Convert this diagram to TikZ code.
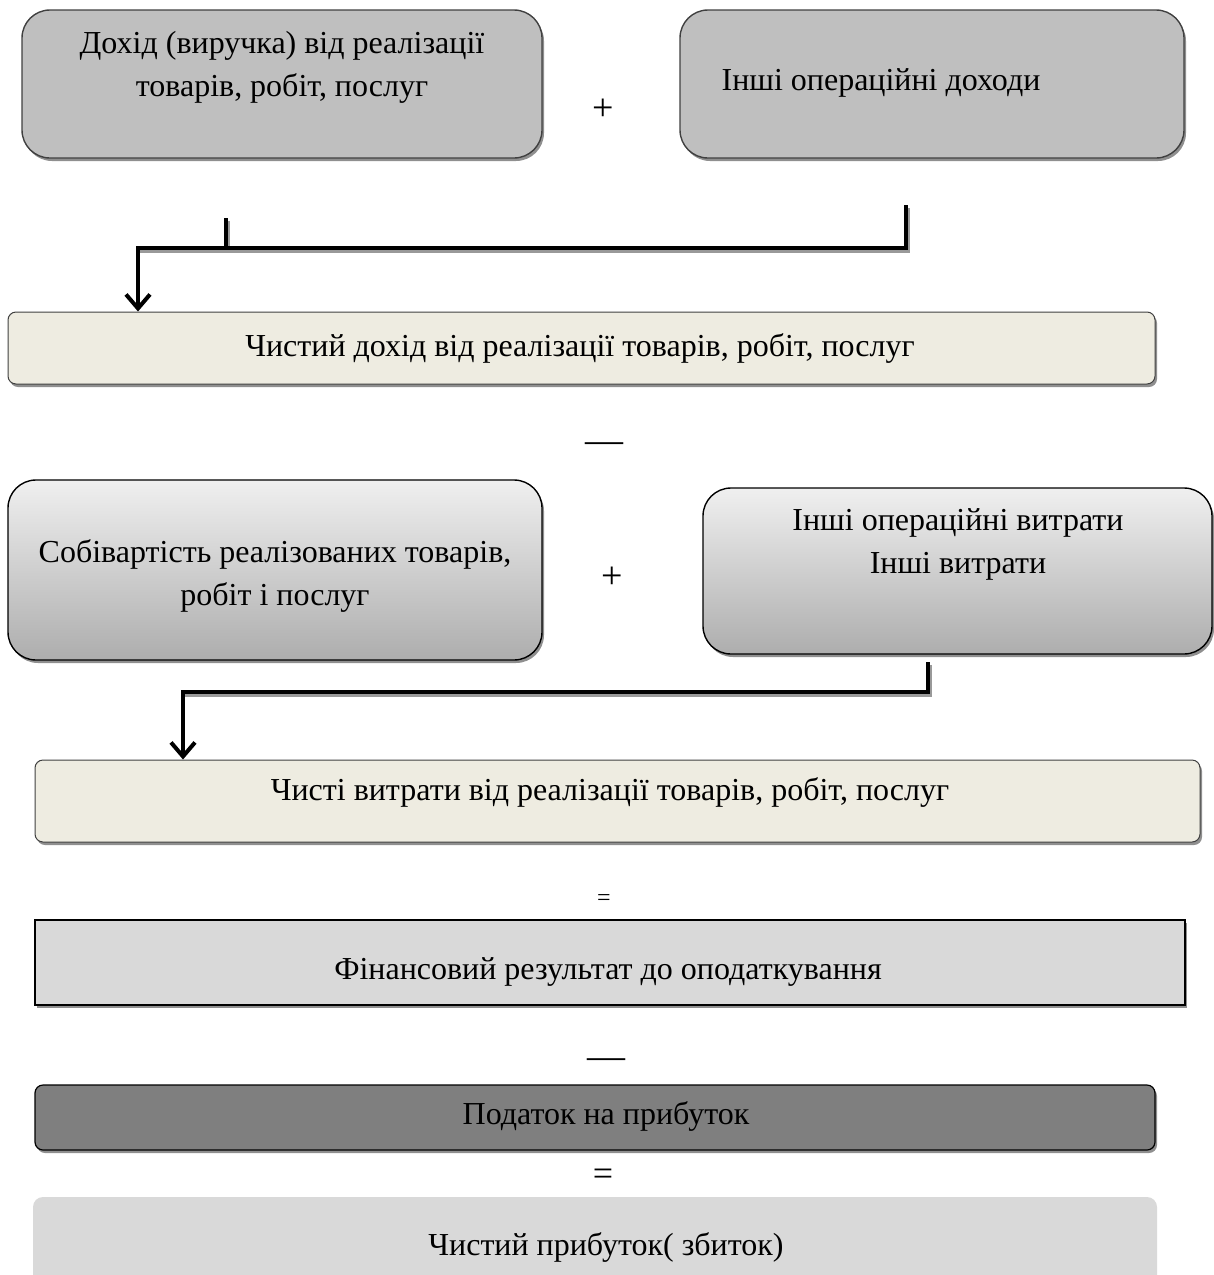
\documentclass[tikz,border=0pt]{standalone}
\usepackage{fontspec}
\setmainfont{Liberation Serif}
\usetikzlibrary{shadows,arrows.meta,calc}
\definecolor{boxgray}{HTML}{BFBFBF}
\definecolor{beige}{HTML}{EEECE1}
\definecolor{lightgray}{HTML}{D9D9D9}
\definecolor{midgray}{HTML}{7F7F7F}
\definecolor{edge}{HTML}{404040}
\begin{document}
\begin{tikzpicture}[x=1pt,y=-1pt,
  shad/.style={drop shadow={shadow xshift=2pt,shadow yshift=-3pt,fill=black!55,opacity=0.8}},
  bigbox/.style={draw=edge,line width=1.4pt,rounded corners=28pt,fill=boxgray,shad,inner sep=0pt},
  gradbox/.style={draw=black,line width=1.4pt,rounded corners=28pt,top color=black!6,bottom color=black!32,shad,inner sep=0pt},
  flatbox/.style={draw=edge,line width=1pt,rounded corners=8pt,fill=beige,shad,inner sep=0pt},
  txt/.style={font=\fontsize{32}{43}\selectfont,align=center,inner sep=0pt},
  sym/.style={font=\fontsize{38}{44}\selectfont,inner sep=0pt},
  conn/.style={line width=4pt,black},
  connshadow/.style={line width=4pt,black!40}
]
\useasboundingbox (0,0) rectangle (1214,1275);

% top row
\node[bigbox,minimum width=520pt,minimum height=148pt] (b1) at (282,84) {};
\node[txt] (t1) at (282,67) {Дохід (виручка) від реалізації\\товарів, робіт, послуг};
\node[sym] (plus1) at (603,110) {+};
\node[bigbox,minimum width=504pt,minimum height=148pt] (b2) at (932,84) {};
\node[txt] (t2) at (881,83) {Інші операційні доходи};

% net revenue
\node[flatbox,minimum width=1147pt,minimum height=72pt] (b3) at (581.5,348) {};
\node[txt] (t3) at (580,348) {Чистий дохід від реалізації товарів, робіт, послуг};

% connector 1
\coordinate (s1) at (226,218);
\coordinate (s2) at (906,205);
\coordinate (j1) at (226,248);
\coordinate (k1) at (138,248);
\draw[connshadow] ($(s2)+(2,3)$) -- ($(s2|-k1)+(2,3)$) -- ($(k1)+(2,3)$);
\draw[connshadow] ($(s1)+(2,3)$) -- ($(j1)+(2,3)$);
\draw[conn] (s1) -- (j1);
\draw[conn,-{Straight Barb[length=14pt,width=24pt]}] (s2) -- (s2|-k1) -- (k1) -- (k1|-b3.north);

\node[sym] (minus1) at (604,448) {—};

% cost row
\node[gradbox,minimum width=534pt,minimum height=180pt] (b4) at (275,570) {};
\node[txt] (t4) at (275,576) {Собівартість реалізованих товарів,\\робіт і послуг};
\node[sym] (plus2) at (612,578) {+};
\node[gradbox,minimum width=509pt,minimum height=166pt] (b5) at (957.5,571) {};
\node[txt] (t5) at (958,544) {Інші операційні витрати\\Інші витрати};

% connector 2
\coordinate (s3) at (928,662);
\coordinate (k2) at (183,692);
\draw[connshadow] ($(s3)+(2,3)$) -- ($(s3|-k2)+(2,3)$) -- ($(k2)+(2,3)$);
\node[flatbox,minimum width=1165pt,minimum height=82pt] (b6) at (617.5,801) {};
\draw[conn,-{Straight Barb[length=14pt,width=24pt]}] (s3) -- (s3|-k2) -- (k2) -- (k2|-b6.north);
\node[txt] (t6) at (610,792) {Чисті витрати від реалізації товарів, робіт, послуг};

\node[font=\fontsize{24}{28}\selectfont,inner sep=0pt] (eq1) at (604,900) {=};

% result
\node[draw=black,line width=1.2pt,fill=lightgray,shad,minimum width=1150pt,minimum height=85pt,inner sep=0pt] (b7) at (610,962.5) {};
\node[txt] (t7) at (608,972) {Фінансовий результат до оподаткування};

\node[sym] (minus2) at (606,1064) {—};

\node[draw=black,line width=1.2pt,rounded corners=8pt,fill=midgray,shad,minimum width=1120pt,minimum height=65pt,inner sep=0pt] (b8) at (595,1117.5) {};
\node[txt] (t8) at (606,1116) {Податок на прибуток};

\node[font=\fontsize{36}{40}\selectfont,inner sep=0pt] (eq2) at (603,1177) {=};

\node[fill=lightgray,rounded corners=10pt,minimum width=1124pt,minimum height=90pt,inner sep=0pt] (b9) at (595,1242) {};
\node[txt] (t9) at (606,1247) {Чистий прибуток( збиток)};
\end{tikzpicture}
\end{document}
